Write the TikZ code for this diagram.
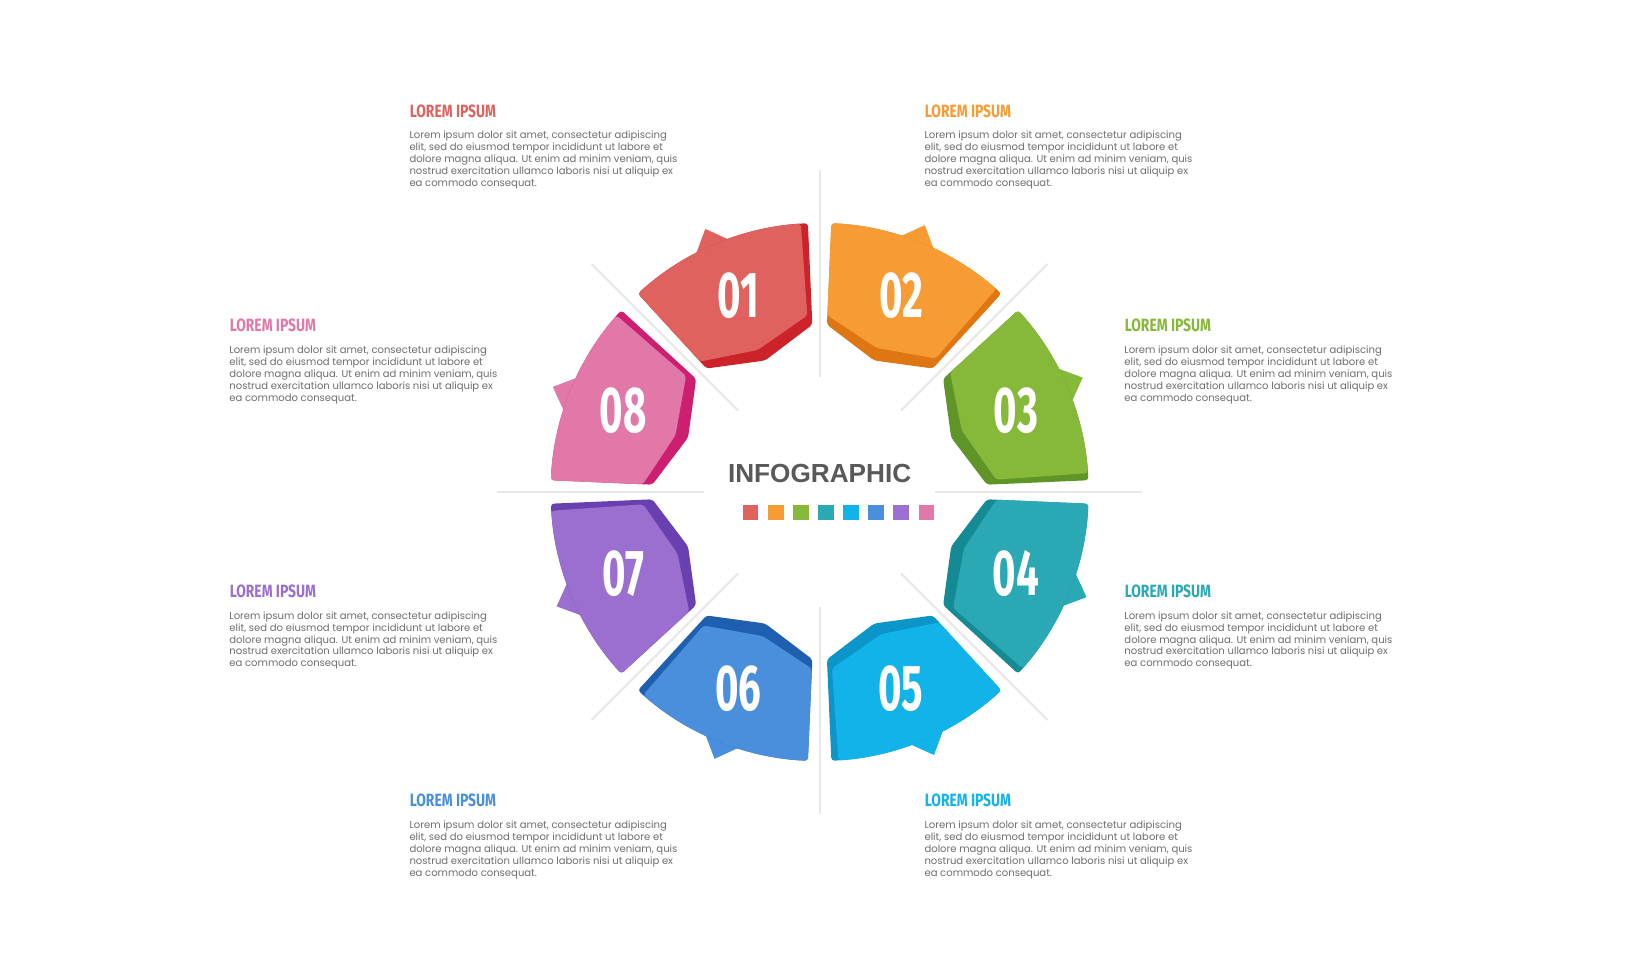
\documentclass[tikz,border=0pt]{standalone}
\usepackage{fontspec}
\setmainfont{Poppins}
\newfontfamily\fira{Fira Sans}
\newfontfamily\libs{Liberation Sans}
\definecolor{cA}{HTML}{E0625F}\definecolor{dA}{HTML}{CC2229}
\definecolor{cB}{HTML}{F79B34}\definecolor{dB}{HTML}{DE7612}
\definecolor{cC}{HTML}{86B83A}\definecolor{dC}{HTML}{5E9526}
\definecolor{cD}{HTML}{2AA9B5}\definecolor{dD}{HTML}{148A94}
\definecolor{cE}{HTML}{12B3E8}\definecolor{dE}{HTML}{0B95C9}
\definecolor{cF}{HTML}{4A8FDC}\definecolor{dF}{HTML}{1F5FB0}
\definecolor{cG}{HTML}{9B6FCF}\definecolor{dG}{HTML}{6A3FB0}
\definecolor{cH}{HTML}{E278A8}\definecolor{dH}{HTML}{CC1F70}
\definecolor{bodygray}{HTML}{6E6E6E}
\begin{document}
\begin{tikzpicture}[x=1pt,y=1pt,
  ttl/.style={anchor=west,font=\fira\bfseries\fontsize{17}{17}\selectfont},
  body/.style={anchor=north west,align=left,text=bodygray,inner sep=0pt,font=\fontsize{9.6}{11.4}\selectfont},
  num/.style={text=white,font=\fira\bfseries\fontsize{62}{62}\selectfont}]
\useasboundingbox[fill=white] (-783,-466) rectangle (777,470);
\foreach \a in {0,45,...,315} \draw[gray!18,line width=2] (\a:110) -- (\a:308);
\foreach \m/\c/\d/\t [count=\i] in {112.5/cA/dA/01,67.5/cB/dB/02,22.5/cC/dC/03,-22.5/cD/dD/04,-67.5/cE/dE/05,-112.5/cF/dF/06,-157.5/cG/dG/07,157.5/cH/dH/08}{
  \pgfmathsetmacro\aa{\m-20}\pgfmathsetmacro\ab{\m+20}\pgfmathsetmacro\ac{\m-18.5}
  \fill[\c] (\m-3:255) -- (\m+5:256) -- (\m+1:274) -- cycle;
  \fill[\d,rounded corners=3] (\aa:257) arc[start angle=\aa,end angle=\ab,radius=257] -- (\ab:160) -- (\m:136) -- (\aa:160) -- cycle;
  \fill[\c,rounded corners=3] (\ac:257) arc[start angle=\ac,end angle=\ab,radius=257] -- (\ab:169) -- (\m+1:148) -- (\ac:169) -- cycle;
  \node[num] (n\i) at (\m:203) {\scalebox{0.62}[1]{\t}};
}
\node[font=\libs\bfseries\fontsize{25}{25}\selectfont,text=black!65] (title) at (0,18) {INFOGRAPHIC};
\foreach \c [count=\i] in {cA,cB,cC,cD,cE,cF,cG,cH}
  \fill[\c] (-90+\i*24-7.5,-27) rectangle +(15,15);
\foreach \x/\y/\c [count=\i] in {-392/364/cA,100/364/cB,291/159/cC,291/-95/cD,100/-295/cE,-392/-295/cF,-564/-95/cG,-564/159/cH}{
  \node[ttl,text=\c] (t\i) at (\x-3,\y) {\scalebox{0.78}[1]{LOREM IPSUM}};
  \node[body] (b\i) at (\x,\y-19) {Lorem ipsum dolor sit amet, consectetur adipiscing\\elit, sed do eiusmod tempor incididunt ut labore et\\dolore magna aliqua. Ut enim ad minim veniam, quis\\nostrud exercitation ullamco laboris nisi ut aliquip ex\\ea commodo consequat.};
}
\end{tikzpicture}
\end{document}
